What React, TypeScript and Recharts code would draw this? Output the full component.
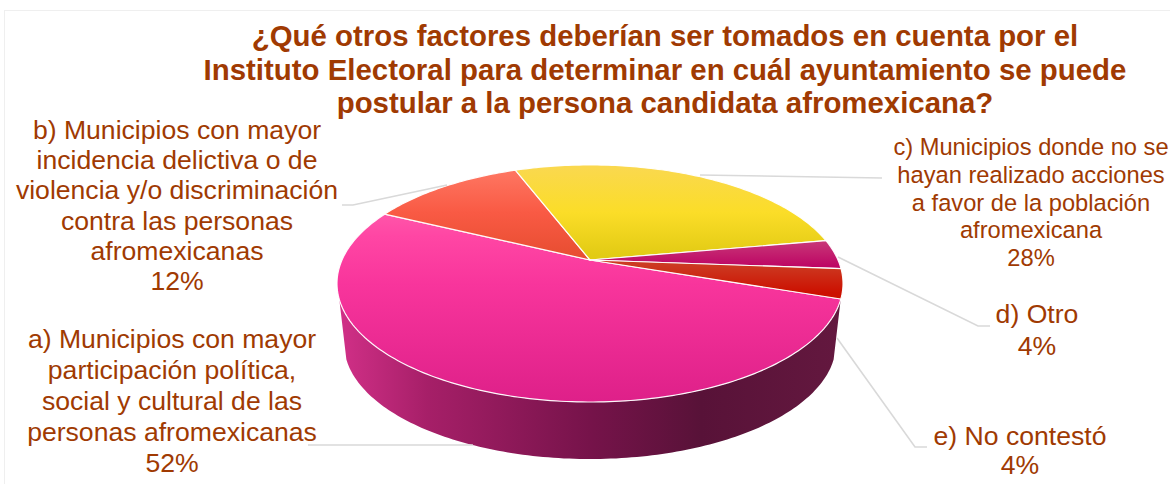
import React from "react";
import { PieChart, Pie } from "recharts";

// ---- data ----
const CATEGORY_LINES: string[][] = [
  ["a) Municipios con mayor", "participación política,", "social y cultural de las", "personas afromexicanas"],
  ["b) Municipios con mayor", "incidencia delictiva o de", "violencia y/o discriminación", "contra las personas", "afromexicanas"],
  ["c) Municipios donde no se", "hayan realizado acciones", "a favor de la población", "afromexicana"],
  ["d) Otro"],
  ["e) No contestó"],
];
const VALUES = [52, 12, 28, 4, 4];
const TITLE_LINES = [
  "¿Qué otros factores deberían ser tomados en cuenta por el",
  "Instituto Electoral para determinar en cuál ayuntamiento se puede",
  "postular a la persona candidata afromexicana?",
];

// ---- layout / style ----
const TEXT_COLOR = "#A03A02";
const FONT = "'Liberation Sans', Arial, sans-serif";
const LABEL_BOX = [
  { x: 172, y: 348, step: 31, size: 26.6 },
  { x: 177, y: 139, step: 30.2, size: 26.6 },
  { x: 1031, y: 155, step: 27.8, size: 23.7 },
  { x: 1037, y: 323, step: 32, size: 26.6 },
  { x: 1020, y: 445, step: 29, size: 26.6 },
];
const LEADERS = [
  [[473, 445], [308, 445]],
  [[447, 185], [353, 205], [342, 205]],
  [[700, 175], [882, 178]],
  [[838, 257], [978, 326], [990, 326]],
  [[837, 338], [915, 447], [927, 447]],
];
const GRADIENT_STOPS: [number, string][][] = [
  [[0.12, "#FF64AE"], [0.3, "#FF46A4"], [0.5, "#F8359C"], [1, "#DE2089"]],
  [[0, "#FF7A66"], [0.2, "#F95A44"], [0.38, "#E84E32"]],
  [[0, "#FAD850"], [0.2, "#FBDD28"], [0.38, "#E2CB14"]],
  [[0.32, "#C83878"], [0.44, "#BC0062"]],
  [[0.42, "#CC3A22"], [0.54, "#CC1000"]],
];
const WALL_STOPS: [number, string][] = [
  [0, "#D23088"], [0.18, "#A61F68"], [0.5, "#76134A"], [0.72, "#581238"], [1, "#64183F"],
];

// Perspective projection of the pie disc onto the picture.
const PX = 590, PY = 260, A = 248, B = 113.9, P = 0.198;
const WALL_DY = 61, WALL_SCALE = 0.972;
const WALL_FROM = 19, WALL_TO = 161;

const project = (deg: number, scale = 1, dy = 0): [number, number] => {
  const t = (deg * Math.PI) / 180;
  const u = Math.cos(t), v = Math.sin(t);
  const w = 1 - P * v;
  return [PX + (scale * A * u) / w, PY + dy + (scale * B * v) / w];
};
const samples = (a: number, b: number): number[] => {
  const n = Math.max(2, Math.ceil(Math.abs(b - a)));
  return Array.from({ length: n + 1 }, (_, i) => a + ((b - a) * i) / n);
};
const toPath = (pts: [number, number][]) =>
  "M" + pts.map((p) => `${p[0].toFixed(2)},${p[1].toFixed(2)}`).join("L") + "Z";

const Slice = (props: any) => {
  const a0 = -props.startAngle, a1 = -props.endAngle;
  const top: [number, number][] = [[PX, PY], ...samples(a0, a1).map((d) => project(d))];
  const lo = Math.max(a0, WALL_FROM), hi = Math.min(a1, WALL_TO);
  let wall: [number, number][] | null = null;
  if (hi > lo) {
    const s = samples(lo, hi);
    wall = [...s.map((d) => project(d)), ...[...s].reverse().map((d) => project(d, WALL_SCALE, WALL_DY))];
  }
  return (
    <g>
      {wall && <path d={toPath(wall)} fill="url(#wallGrad)" stroke="none" />}
      <path d={toPath(top)} fill={props.fill} stroke="#FFFFFF" strokeOpacity={0.95} strokeWidth={1.2} strokeLinejoin="round" />
    </g>
  );
};

const SliceLabel = (props: any) => {
  const i = props.index;
  const box = LABEL_BOX[i];
  const lines = [...CATEGORY_LINES[i], `${VALUES[i]}%`];
  return (
    <text x={box.x} y={box.y} textAnchor="middle" fontFamily={FONT} fontSize={box.size} fill={TEXT_COLOR}>
      {lines.map((l, k) => (
        <tspan key={k} x={box.x} y={box.y + k * box.step}>{l}</tspan>
      ))}
    </text>
  );
};

const SliceLeader = (props: any) => (
  <polyline
    points={LEADERS[props.index].map((p) => p.join(",")).join(" ")}
    fill="none"
    stroke="#D9D9D9"
    strokeWidth={1.6}
  />
);

const tableData = VALUES.map((value, i) => ({
  name: CATEGORY_LINES[i].join(" "),
  value,
  fill: `url(#sliceGrad${i})`,
}));

export default function App() {
  return (
    <div style={{ position: "fixed", left: 0, top: 0, width: 1170, height: 484, background: "#fff", overflow: "hidden" }}>
      <div style={{ position: "absolute", left: 4, top: 10, right: -4, bottom: -4, border: "1.5px solid #EFEFEF" }} />
      <svg width={0} height={0} style={{ position: "absolute" }}>
        <defs>
          {GRADIENT_STOPS.map((stops, i) => (
            <linearGradient key={i} id={`sliceGrad${i}`} gradientUnits="userSpaceOnUse" x1={0} y1={165} x2={0} y2={402}>
              {stops.map(([o, c], k) => <stop key={k} offset={o} stopColor={c} />)}
            </linearGradient>
          ))}
          <linearGradient id="wallGrad" gradientUnits="userSpaceOnUse" x1={337} y1={0} x2={843} y2={0}>
            {WALL_STOPS.map(([o, c], k) => <stop key={k} offset={o} stopColor={c} />)}
          </linearGradient>
        </defs>
      </svg>
      <div style={{ position: "absolute", left: 0, top: 0 }}>
        <PieChart width={1170} height={484} margin={{ top: 0, right: 0, bottom: 0, left: 0 }}>
          <Pie
            data={tableData}
            dataKey="value"
            nameKey="name"
            cx={PX}
            cy={PY}
            outerRadius={100}
            startAngle={-18.7}
            endAngle={-378.7}
            paddingAngle={0}
            isAnimationActive={false}
            shape={Slice}
            label={SliceLabel}
            labelLine={SliceLeader}
          />
        </PieChart>
      </div>
      <svg width={1170} height={130} style={{ position: "absolute", left: 0, top: 0, pointerEvents: "none" }}>
        <text textAnchor="middle" fontFamily={FONT} fontSize={29.4} fontWeight={700} fill={TEXT_COLOR}>
          {TITLE_LINES.map((l, i) => (
            <tspan key={i} x={665} y={46 + i * 33.5}>{l}</tspan>
          ))}
        </text>
      </svg>
    </div>
  );
}
